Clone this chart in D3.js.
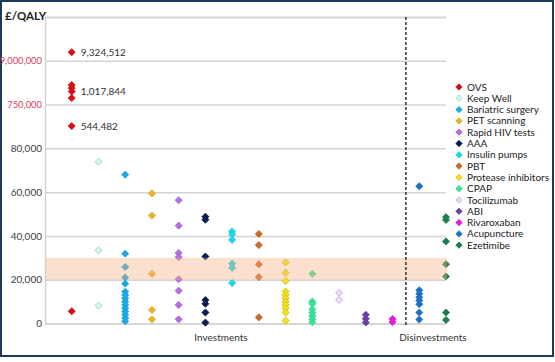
<!DOCTYPE html>
<html>
<head>
<meta charset="utf-8">
<script src="https://cdn.jsdelivr.net/npm/d3@7"></script>
<style>
  body { margin: 0; background: #fff; }
  svg { display: block; font-family: Lato, "Liberation Sans", sans-serif; }
</style>
</head>
<body>
<svg width="555" height="362"></svg>
<script>
// categories in plotting order (x = 1..15)
const categories = ['OVS', 'Keep Well', 'Bariatric surgery', 'PET scanning', 'Rapid HIV tests', 'AAA',
  'Insulin pumps', 'PBT', 'Protease inhibitors', 'CPAP', 'Tocilizumab', 'ABI', 'Rivaroxaban',
  'Acupuncture', 'Ezetimibe'];

// £/QALY values, one array per intervention
const ovs = [9324512, 1151000, 1090000, 1017844, 885000, 544482, 5600];
const keepWell = [73900, 33400, 8200];
const bariatric = [68000, 31900, 25800, 21000, 18200, 14500, 13000, 11500, 10000, 8500, 7000, 5500, 4000, 2500, 1000];
const petScanning = [59400, 49300, 22700, 6200, 1900];
const rapidHiv = [56300, 44700, 32200, 30300, 20200, 15000, 8500, 1900];
const aaa = [48800, 47400, 30600, 10700, 9000, 5000, 400];
const insulinPumps = [42000, 40800, 38200, 27400, 25400, 18500];
const pbt = [40900, 35800, 27000, 21200, 2800];
const protease = [27900, 23200, 19400, 14600, 13100, 11600, 10000, 8500, 7000, 5000, 1300];
const cpap = [22700, 10000, 9000, 6500, 5000, 3500, 2000, 600];
const tocilizumab = [14000, 10800];
const abi = [4000, 2200, 500];
const rivaroxaban = [2000, 700];
const acupuncture = [62700, 15200, 13600, 12000, 10500, 8800, 5000, 1800];
const ezetimibe = [48600, 47300, 37500, 27100, 21500, 5000, 1600];

const seriesValues = [ovs, keepWell, bariatric, petScanning, rapidHiv, aaa, insulinPumps, pbt,
  protease, cpap, tocilizumab, abi, rivaroxaban, acupuncture, ezetimibe];

// values written next to the OVS points
const ovsLabels = [9324512, 1017844, 544482];

// y ticks of the broken axis and their labels
const yTicks = [0, 20000, 40000, 60000, 80000, 750000, 9000000, 12000000];
const yTickLabels = ['0', '20,000', '40,000', '60,000', '80,000', '750,000', '9,000,000', ''];

// threshold band £20,000 - £30,000
const band = [20000, 30000];

const colors = ['#d40f14', '#d6f6f2', '#1ba6e4', '#e9b52c', '#b46fe3', '#0b1b52', '#22d6ea', '#cd6a26',
  '#f3e31e', '#3de39a', '#eddcf6', '#6a3fa6', '#e41fe2', '#1f6fc6', '#1e7b4f'];
const strokes = ['#d40f14', '#86d8cf', '#1ba6e4', '#d9a41c', '#a45fd6', '#0b1b52', '#18c6da', '#c0601e',
  '#cfc000', '#2fd08a', '#c9a6e0', '#6a3fa6', '#d010d0', '#1f6fc6', '#1e7b4f'];

const svg = d3.select('svg');
const plotLeft = 45, plotRight = 446, plotTop = 17, plotBottom = 323.5;

// x: categories at 1..15 like an Excel scatter
const xScale = d3.scaleLinear().domain([0, 15]).range([plotLeft, plotRight]);

// y: broken axis, each gridline step is one unit; upper part squeezed
const step = (plotBottom - plotTop) / 7;
const yKnots = [0, 80000, 600000, 750000, 1200000, 9000000, 10000000, 12000000];
const ySteps = [0, 4, 4.57, 5, 5.5, 6, 6.6, 7];
const yScale = d3.scaleLinear().domain(yKnots).range(ySteps.map(s => plotBottom - s * step));

// frame
svg.append('rect')
   .attr('x', 1).attr('y', 1).attr('width', 552).attr('height', 355)
   .attr('fill', '#fff').attr('stroke', '#1f3b5c').attr('stroke-width', 2);

// gridlines + y labels
const yAxis = d3.axisLeft(yScale)
  .tickValues(yTicks)
  .tickSize(-(plotRight - plotLeft))
  .tickPadding(3)
  .tickFormat((d, i) => yTickLabels[i]);

const gy = svg.append('g').attr('transform', `translate(${plotLeft},0)`).call(yAxis);
gy.select('.domain').attr('stroke', '#d3d3d3').attr('stroke-width', 1.5);
gy.selectAll('.tick line').attr('stroke', '#d3d3d3').attr('stroke-width', 1.5);
gy.selectAll('.tick text')
  .attr('font-size', d => d > 80000 ? 9.4 : 10)
  .attr('font-family', 'Lato, sans-serif')
  .attr('fill', d => d > 80000 ? '#d9405c' : '#404040');

// points
const symbol = d3.symbol().type(d3.symbolSquare).size(25);
const points = [];
seriesValues.forEach((vals, i) => vals.forEach(v => points.push({cat: i, value: v})));

svg.append('g').selectAll('path')
   .data(points)
   .enter()
   .append('path')
   .attr('d', symbol)
   .attr('transform', d => `translate(${xScale(d.cat + 1)},${yScale(d.value)}) rotate(45)`)
   .attr('fill', d => colors[d.cat])
   .attr('stroke', d => strokes[d.cat])
   .attr('stroke-width', 0.8);

// translucent threshold band over the points
svg.append('rect')
   .attr('x', plotLeft + 1)
   .attr('y', yScale(band[1]))
   .attr('width', plotRight - plotLeft)
   .attr('height', yScale(band[0]) - yScale(band[1]))
   .attr('fill', '#f4b183')
   .attr('opacity', 0.4);

// investments | disinvestments divider
svg.append('line')
   .attr('x1', xScale(13.5)).attr('x2', xScale(13.5))
   .attr('y1', plotTop).attr('y2', plotBottom + 2)
   .attr('stroke', '#333').attr('stroke-width', 1.5)
   .attr('stroke-dasharray', '3,2');

// OVS value labels
svg.append('g').selectAll('text')
   .data(ovsLabels)
   .enter()
   .append('text')
   .attr('x', xScale(1) + 9)
   .attr('y', d => yScale(d))
   .attr('dy', '0.35em')
   .attr('font-size', 10)
   .attr('fill', '#333')
   .text(d3.format(','));

// title + group labels
svg.append('text').attr('x', 5).attr('y', 20)
   .attr('font-size', 11.5).attr('font-weight', 'bold').attr('fill', '#222')
   .text('£/QALY');
svg.append('text').attr('x', 221).attr('y', 341).attr('text-anchor', 'middle')
   .attr('font-size', 10).attr('fill', '#333').text('Investments');
svg.append('text').attr('x', 433).attr('y', 341).attr('text-anchor', 'middle')
   .attr('font-size', 10).attr('fill', '#333').text('Disinvestments');

// legend
const legend = svg.append('g').selectAll('g')
  .data(categories)
  .enter()
  .append('g')
  .attr('transform', (d, i) => `translate(459,${87 + i * 11.3})`);

legend.append('path')
  .attr('d', d3.symbol().type(d3.symbolSquare).size(20))
  .attr('transform', 'rotate(45)')
  .attr('fill', (d, i) => colors[i])
  .attr('stroke', (d, i) => strokes[i])
  .attr('stroke-width', 0.8);

legend.append('text')
  .attr('x', 8)
  .attr('dy', '0.35em')
  .attr('font-size', 10)
  .attr('fill', '#222')
  .text(d => d);
</script>
</body>
</html>
